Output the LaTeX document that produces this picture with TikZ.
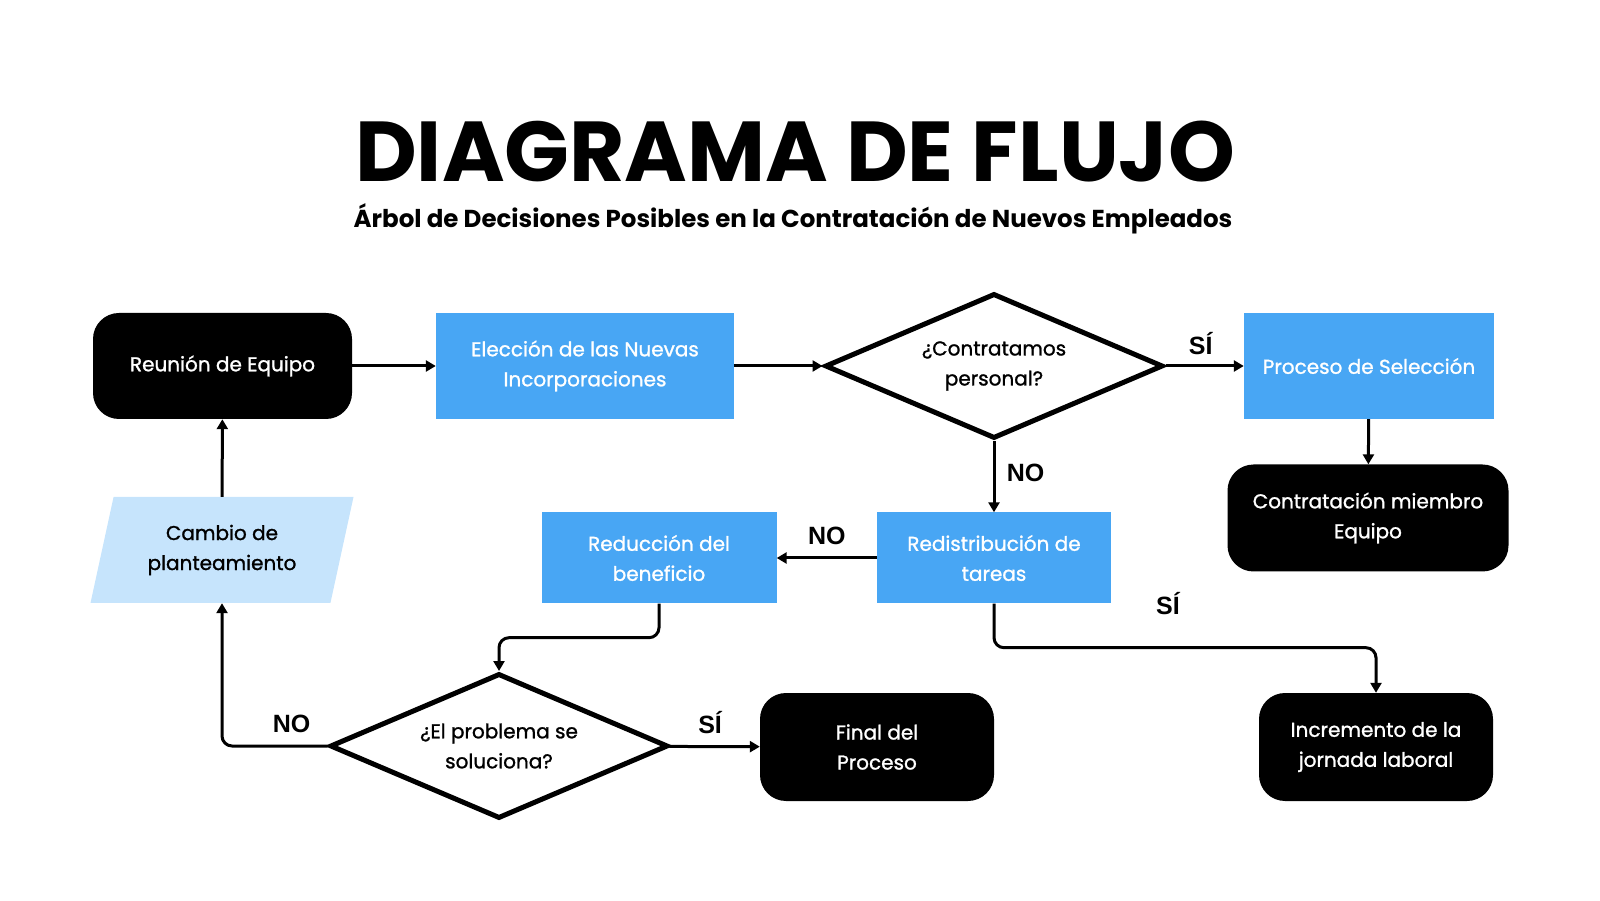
\documentclass[tikz,border=0pt]{standalone}
\usepackage{fontspec}
\setmainfont{Poppins}
\newfontfamily\boxfont{Poppins}[FakeBold=1.2]
\newfontfamily\answerfont{Liberation Sans}
\usetikzlibrary{arrows.meta,shapes.geometric,positioning}
\definecolor{boxblue}{RGB}{72,166,244}
\definecolor{paleblue}{RGB}{198,228,252}

\begin{document}
\begin{tikzpicture}[x=1pt,y=1pt,
    boxtext/.style={align=center,font=\boxfont\fontsize{20}{30}\selectfont},
    terminal/.style={boxtext,fill=black,text=white,rounded corners=26pt,minimum width=234pt,minimum height=107pt},
    process/.style={boxtext,fill=boxblue,text=white,minimum height=106pt},
    decision/.style={boxtext,diamond,draw=black,line width=5pt,fill=white,aspect=2.3,inner sep=0pt,minimum width=338pt,minimum height=145pt},
    inputbox/.style={boxtext,trapezium,trapezium left angle=68,trapezium right angle=112,trapezium stretches body=true,fill=paleblue,minimum width=263pt,minimum height=106pt,inner xsep=0pt},
    flow/.style={line width=3pt,-{Triangle[length=10pt,width=11pt]},rounded corners=10pt},
    answer/.style={font=\answerfont\bfseries\fontsize{25}{25}\selectfont}
]
    \useasboundingbox (0,0) rectangle (1600,900);

    % title
    \node[font=\fontsize{85}{85}\selectfont\bfseries,inner sep=0pt,text depth=0pt] (title) at (795,749) {DIAGRAMA DE FLUJO};
    \node[font=\fontsize{24.5}{24.5}\selectfont\bfseries,inner sep=0pt] (subtitle) at (793,681) {Árbol de Decisiones Posibles en la Contratación de Nuevos Empleados};

    % top row
    \node[terminal,minimum width=259pt,minimum height=106pt] (reunion) at (222.5,534) {Reunión de Equipo};
    \node[process,minimum width=298pt] (eleccion) at (585,534) {Elección de las Nuevas\\Incorporaciones};
    \node[decision] (contratamos) at (994,534) {¿Contratamos\\personal?};
    \node[process,minimum width=250pt] (proceso) at (1369,534) {Proceso de Selección};

    % middle row
    \node[inputbox] (cambio) at (222,350) {Cambio de\\planteamiento};
    \node[process,minimum width=235pt,minimum height=91pt] (reduccion) at (659,342) {Reducción del\\beneficio};
    \node[process,minimum width=234pt,minimum height=91pt] (redistribucion) at (994,342) {Redistribución de\\tareas};
    \node[terminal,minimum width=281pt] (contratacion) at (1368,382) {Contratación miembro\\Equipo};

    % bottom row
    \node[decision] (problema) at (499,154) {¿El problema se\\soluciona?};
    \node[terminal,minimum height=108pt] (final) at (877,153) {Final del\\Proceso};
    \node[terminal,minimum height=108pt] (incremento) at (1376,153) {Incremento de la\\jornada laboral};

    % connectors
    \draw[flow] (reunion) -- (eleccion);
    \draw[flow] (eleccion) -- (contratamos);
    \draw[flow] (contratamos) -- node[answer,pos=0.45,above=6pt] {SÍ} (proceso);
    \draw[flow] (proceso) -- (contratacion);
    \draw[flow] (contratamos) -- node[answer,pos=0.45,right=8pt] {NO} (redistribucion);
    \draw[flow] (redistribucion) -- node[answer,pos=0.5,above=8pt] {NO} (reduccion);
    \draw[flow] (reduccion.south) -- ++(0,-34) -| (problema.north);
    \draw[flow] (redistribucion.south) -- ++(0,-44) -| (incremento.north);
    \node[answer] (sifinal) at (1168,296) {SÍ};
    \draw[flow] (problema.west) -| node[answer,pos=0.17,above=8pt] {NO} (cambio.south);
    \draw[flow] (problema) -- node[answer,pos=0.45,above=8pt] {SÍ} (final);
    \draw[flow] (cambio) -- (reunion);
\end{tikzpicture}
\end{document}
